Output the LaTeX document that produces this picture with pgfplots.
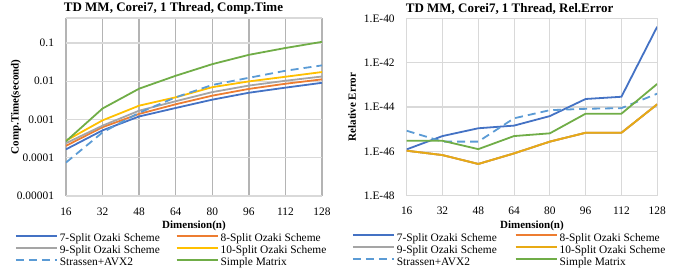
\documentclass[border=0pt]{standalone}
\usepackage{pgfplots}
\pgfplotsset{compat=1.18}
\usepackage{fontspec}
\setmainfont{Liberation Serif}
\definecolor{cA}{HTML}{4472C4}
\definecolor{cB}{HTML}{ED7D31}
\definecolor{cC}{HTML}{A5A5A5}
\definecolor{cD}{HTML}{FFC000}
\definecolor{cDr}{HTML}{E8AA14}
\definecolor{cE}{HTML}{5B9BD5}
\definecolor{cF}{HTML}{70AD47}
\definecolor{gridl}{HTML}{D9D9D9}
\definecolor{gridd}{HTML}{B4B4B4}
\pgfplotsset{
  myax/.style={
    scale only axis,
    xmin=16, xmax=128,
    xtick={16,32,48,64,80,96,112,128},
    xticklabels={16,32,48,64,80,96,112,128},
    yminorticks=false,
    tick style={draw=none},
    /pgf/number format/assume math mode=true,
    tick label style={font=\fontsize{11.4}{13}\selectfont},
    xticklabel style={anchor=base, yshift=-19pt},
    yticklabel style={anchor=east, xshift=-8.5pt},
    xmajorgrids, ymajorgrids,
    y grid style={draw=gridl, line width=1.1pt},
    separate axis lines,
    x axis line style={draw=gridl, line width=1.1pt},
    xlabel style={font=\bfseries\fontsize{11}{13}\selectfont, at={(axis description cs:0.5,0)}, anchor=center, yshift=-30pt},
    ylabel style={font=\bfseries\fontsize{11}{13}\selectfont, at={(axis description cs:0,0.5)}, anchor=center},
    title style={font=\bfseries\fontsize{13}{15}\selectfont, at={(axis description cs:0.5,1)}, anchor=base, yshift=0pt},
    legend columns=2,
    legend cell align=left,
    legend style={draw=none, fill=none, inner sep=0pt, outer sep=0pt,
      font=\fontsize{11.4}{13}\selectfont,
      column sep=0pt, row sep=0pt,
      nodes={inner xsep=2pt, inner ysep=0pt, text height=8.5pt, text depth=3.5pt, align=left}},
    every axis plot/.append style={line width=1.8pt, mark=none},
  },
  legend image code/.code={\draw[#1] (0pt,3.6pt) -- (41pt,3.6pt);},
}
\begin{document}
\begin{tikzpicture}
\begin{axis}[myax,
  ymode=log,
  at={(66pt,77pt)}, anchor=south west,
  width=256pt, height=178pt,
  ymin=1e-5, ymax=0.45,
  ytick={1e-5,1e-4,1e-3,1e-2,1e-1},
  yticklabels={0.00001,0.0001,0.001,0.01,0.1},
  y axis line style={draw=none},
  x grid style={draw=gridd, line width=1.3pt},
  title={TD MM, Corei7, 1 Thread, Comp.Time},
  title style={xshift=-20.5pt},
  xlabel={Dimension(n)},
  ylabel={Comp.Time(second)},
  ylabel style={yshift=50pt},
  legend style={at={(axis description cs:0,0)}, anchor=north west, xshift=-51pt, yshift=-37.2pt,
    /tikz/every even column/.append style={column sep=14pt}},
]
\addplot[cA] coordinates {(16,1.66e-4)(32,5.2e-4)(48,1.2e-3)(64,2.0e-3)(80,3.3e-3)(96,5.0e-3)(112,6.8e-3)(128,9.1e-3)};
\addlegendentry{7-Split Ozaki Scheme}
\addplot[cB] coordinates {(16,2.05e-4)(32,6.3e-4)(48,1.4e-3)(64,2.5e-3)(80,4.2e-3)(96,6.3e-3)(112,8.6e-3)(128,1.12e-2)};
\addlegendentry{8-Split Ozaki Scheme}
\addplot[cC] coordinates {(16,2.4e-4)(32,6.9e-4)(48,1.7e-3)(64,3.0e-3)(80,5.2e-3)(96,7.7e-3)(112,1.03e-2)(128,1.33e-2)};
\addlegendentry{9-Split Ozaki Scheme}
\addplot[cD] coordinates {(16,2.8e-4)(32,9.5e-4)(48,2.3e-3)(64,3.8e-3)(80,7.0e-3)(96,9.9e-3)(112,1.31e-2)(128,1.74e-2)};
\addlegendentry{10-Split Ozaki Scheme}
\addplot[cE, dash pattern=on 8pt off 5pt] coordinates {(16,7.5e-5)(32,4.6e-4)(48,1.5e-3)(64,3.8e-3)(80,8.0e-3)(96,1.23e-2)(112,1.88e-2)(128,2.6e-2)};
\addlegendentry{Strassen+AVX2}
\addplot[cF] coordinates {(16,2.7e-4)(32,1.94e-3)(48,6.4e-3)(64,1.39e-2)(80,2.8e-2)(96,4.9e-2)(112,7.4e-2)(128,1.07e-1)};
\addlegendentry{Simple Matrix}
\end{axis}
\begin{axis}[myax,
  ymode=log,
  at={(406.7pt,77.3pt)}, anchor=south west,
  width=250.5pt, height=177.4pt,
  ymin=1e-48, ymax=1e-40,
  ytick={1e-48,1e-46,1e-44,1e-42,1e-40},
  yticklabels={1.E-48,1.E-46,1.E-44,1.E-42,1.E-40},
  y axis line style={draw=gridl, line width=1.1pt},
  x grid style={draw=gridl, line width=1.1pt},
  title={TD MM, Corei7, 1 Thread, Rel.Error},
  title style={xshift=-22.3pt},
  xlabel={Dimension(n)},
  ylabel={Relative Error},
  ylabel style={yshift=54.7pt},
  legend style={at={(axis description cs:0,0)}, anchor=north west, xshift=-54.7pt, yshift=-37.2pt,
    /tikz/every even column/.append style={column sep=16pt}},
]
\addplot[cA] coordinates {(16,1.23e-46)(32,4.9e-46)(48,1.1e-45)(64,1.45e-45)(80,3.9e-45)(96,2.3e-44)(112,2.9e-44)(128,4.2e-41)};
\addlegendentry{7-Split Ozaki Scheme}
\addplot[cB] coordinates {(16,1.07e-46)(32,6.8e-47)(48,2.7e-47)(64,8.1e-47)(80,2.75e-46)(96,6.9e-46)(112,6.9e-46)(128,1.32e-44)};
\addlegendentry{8-Split Ozaki Scheme}
\addplot[cC] coordinates {(16,1.07e-46)(32,6.8e-47)(48,2.7e-47)(64,8.1e-47)(80,2.75e-46)(96,6.9e-46)(112,6.9e-46)(128,1.32e-44)};
\addlegendentry{9-Split Ozaki Scheme}
\addplot[cDr] coordinates {(16,1.07e-46)(32,6.8e-47)(48,2.7e-47)(64,8.1e-47)(80,2.75e-46)(96,6.9e-46)(112,6.9e-46)(128,1.32e-44)};
\addlegendentry{10-Split Ozaki Scheme}
\addplot[cE, dash pattern=on 8pt off 5pt] coordinates {(16,8.5e-46)(32,2.75e-46)(48,2.75e-46)(64,3.1e-45)(80,7.2e-45)(96,8.3e-45)(112,8.9e-45)(128,4.0e-44)};
\addlegendentry{Strassen+AVX2}
\addplot[cF] coordinates {(16,3.0e-46)(32,3.0e-46)(48,1.26e-46)(64,4.9e-46)(80,6.5e-46)(96,5.0e-45)(112,5.0e-45)(128,1.1e-43)};
\addlegendentry{Simple Matrix}
\end{axis}
\pgfresetboundingbox
\path[use as bounding box] (0,0) rectangle (673pt,273pt);
\end{tikzpicture}
\end{document}
